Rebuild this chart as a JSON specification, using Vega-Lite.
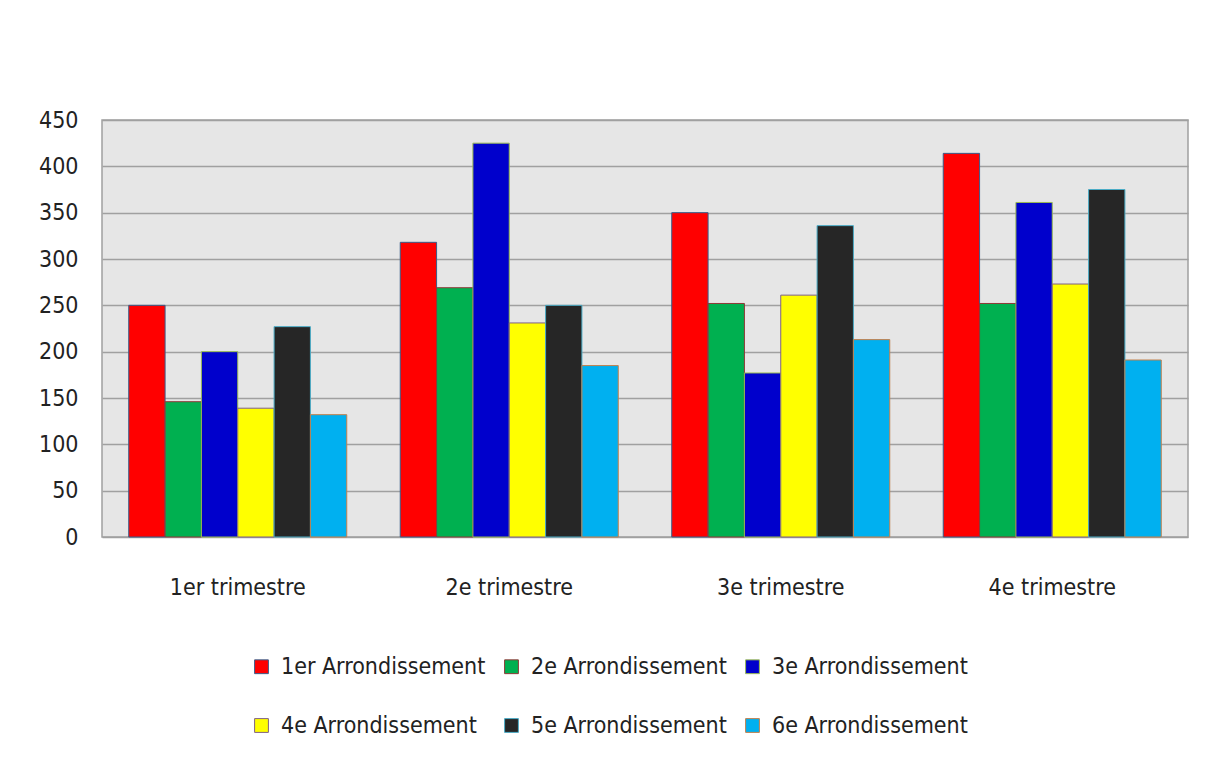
{
  "$schema": "https://vega.github.io/schema/vega-lite/v6.json",
  "width": 1086,
  "height": 417,
  "autosize": "none",
  "padding": {"left": 102, "top": 120, "right": 20, "bottom": 223},
  "background": "white",
  "data": {
    "values": [
      {"trimestre": "1er trimestre", "arr": "1er Arrondissement", "v": 250},
      {"trimestre": "1er trimestre", "arr": "2e Arrondissement", "v": 146},
      {"trimestre": "1er trimestre", "arr": "3e Arrondissement", "v": 200},
      {"trimestre": "1er trimestre", "arr": "4e Arrondissement", "v": 139},
      {"trimestre": "1er trimestre", "arr": "5e Arrondissement", "v": 227},
      {"trimestre": "1er trimestre", "arr": "6e Arrondissement", "v": 132},
      {"trimestre": "2e trimestre", "arr": "1er Arrondissement", "v": 318},
      {"trimestre": "2e trimestre", "arr": "2e Arrondissement", "v": 269},
      {"trimestre": "2e trimestre", "arr": "3e Arrondissement", "v": 425},
      {"trimestre": "2e trimestre", "arr": "4e Arrondissement", "v": 231},
      {"trimestre": "2e trimestre", "arr": "5e Arrondissement", "v": 250},
      {"trimestre": "2e trimestre", "arr": "6e Arrondissement", "v": 185},
      {"trimestre": "3e trimestre", "arr": "1er Arrondissement", "v": 350},
      {"trimestre": "3e trimestre", "arr": "2e Arrondissement", "v": 252},
      {"trimestre": "3e trimestre", "arr": "3e Arrondissement", "v": 177},
      {"trimestre": "3e trimestre", "arr": "4e Arrondissement", "v": 261},
      {"trimestre": "3e trimestre", "arr": "5e Arrondissement", "v": 336},
      {"trimestre": "3e trimestre", "arr": "6e Arrondissement", "v": 213},
      {"trimestre": "4e trimestre", "arr": "1er Arrondissement", "v": 414},
      {"trimestre": "4e trimestre", "arr": "2e Arrondissement", "v": 252},
      {"trimestre": "4e trimestre", "arr": "3e Arrondissement", "v": 361},
      {"trimestre": "4e trimestre", "arr": "4e Arrondissement", "v": 273},
      {"trimestre": "4e trimestre", "arr": "5e Arrondissement", "v": 375},
      {"trimestre": "4e trimestre", "arr": "6e Arrondissement", "v": 191}
    ]
  },
  "mark": {"type": "bar", "strokeWidth": 1},
  "encoding": {
    "x": {
      "field": "trimestre", "type": "nominal", "sort": null,
      "scale": {"paddingInner": 0.197, "paddingOuter": 0.0985},
      "axis": {"title": null, "labelAngle": 0, "ticks": false, "domain": false, "labelPadding": 39,
               "labelFont": "DejaVu Sans Condensed, Open Sans", "labelFontSize": 23, "labelColor": "#222"}
    },
    "xOffset": {"field": "arr", "type": "nominal", "sort": null, "scale": {"paddingInner": 0, "paddingOuter": 0}},
    "y": {
      "field": "v", "type": "quantitative",
      "scale": {"domain": [0, 450], "nice": false},
      "axis": {"title": null, "values": [0, 50, 100, 150, 200, 250, 300, 350, 400, 450], "ticks": false, "domain": false,
               "labelPadding": 24, "labelFont": "DejaVu Sans Condensed, Open Sans", "labelFontSize": 23, "labelColor": "#222",
               "gridColor": "#a0a0a0", "gridWidth": 1.5}
    },
    "color": {
      "field": "arr", "type": "nominal", "sort": null,
      "scale": {"range": ["#ff0000", "#00b050", "#0000cc", "#ffff00", "#262626", "#00b0f0"]},
      "legend": {
        "title": null, "orient": "none", "legendX": 148, "legendY": 535, "columns": 3, "direction": "horizontal",
        "symbolType": "square", "symbolSize": 190, "symbolStrokeWidth": 1, "symbolStrokeColor": "#666",
        "labelFont": "DejaVu Sans Condensed, Open Sans", "labelFontSize": 23, "labelColor": "#222", "labelLimit": 0,
        "columnPadding": 14, "rowPadding": 35, "labelOffset": 8
      }
    },
    "stroke": {
      "field": "arr", "type": "nominal", "sort": null,
      "scale": {"range": ["#385d8a", "#8c3836", "#98b954", "#7f6084", "#4bacc6", "#c0804d"]},
      "legend": null
    }
  },
  "config": {
    "view": {"fill": "#e6e6e6", "stroke": "#a0a0a0", "strokeWidth": 1.5}
  }
}
